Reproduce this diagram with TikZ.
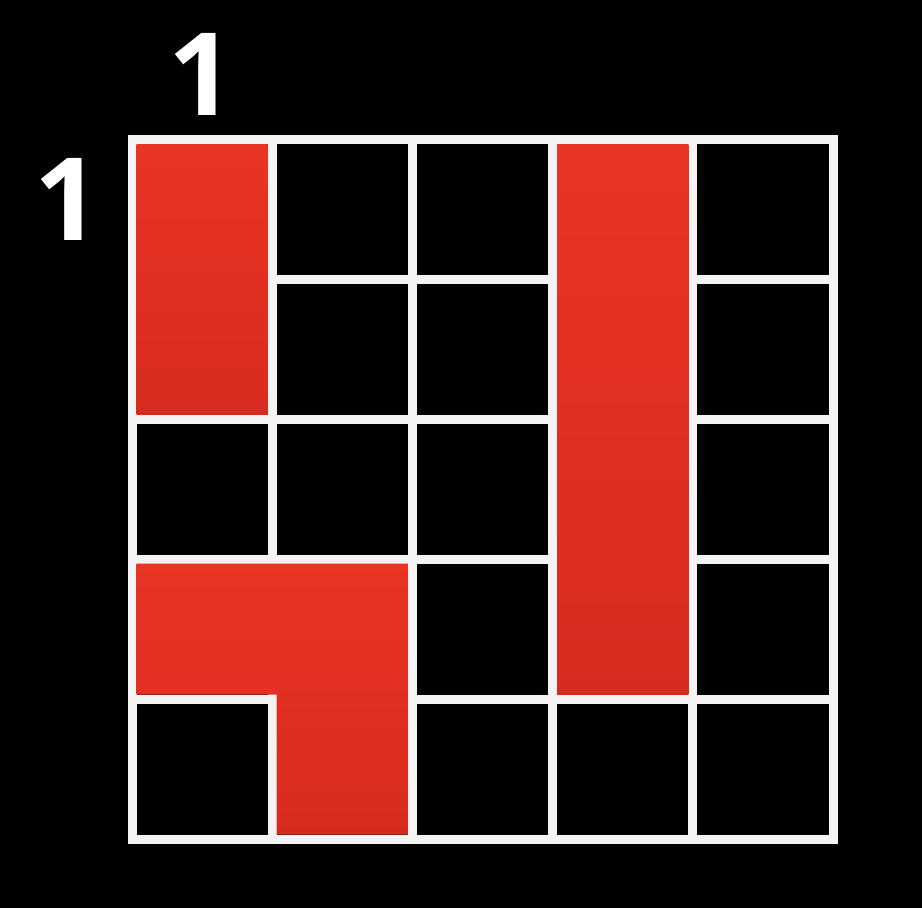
\documentclass[tikz,border=0pt]{standalone}
\usepackage{fontspec}
\setmainfont{Open Sans}
\definecolor{redtop}{RGB}{234,52,36}
\definecolor{redbot}{RGB}{216,43,31}
\definecolor{gridw}{RGB}{244,244,244}
\begin{document}
\begin{tikzpicture}[x=1pt,y=-1pt,
  gridline/.style={draw=gridw,line width=9pt,line cap=rect},
  redblock/.style={top color=redtop,bottom color=redbot,draw=none},
  numlabel/.style={text=white,font=\fontsize{115}{120}\selectfont\bfseries,inner sep=0pt,anchor=base}]
\fill[black] (0,0) rectangle (922,908);
\useasboundingbox (0,0) rectangle (922,908);
\foreach \i in {0,...,5}{
  \draw[gridline] ({132+140.2*\i},139.5) -- ({132+140.2*\i},839);
  \draw[gridline] (132,{139.5+139.9*\i}) -- (833,{139.5+139.9*\i});
}
\path[redblock] (136.5,144) rectangle (267.7,414.8);
\path[redblock] (557.1,144) rectangle (688.3,694.6);
\path[redblock] (136.5,563.7) -- (407.9,563.7) -- (407.9,834.5) -- (276.7,834.5) -- (276.7,694.6) -- (136.5,694.6) -- cycle;
\node[numlabel] (toplabel) at (201,115) {1};
\node[numlabel] (leftlabel) at (67,240) {1};
\end{tikzpicture}
\end{document}
